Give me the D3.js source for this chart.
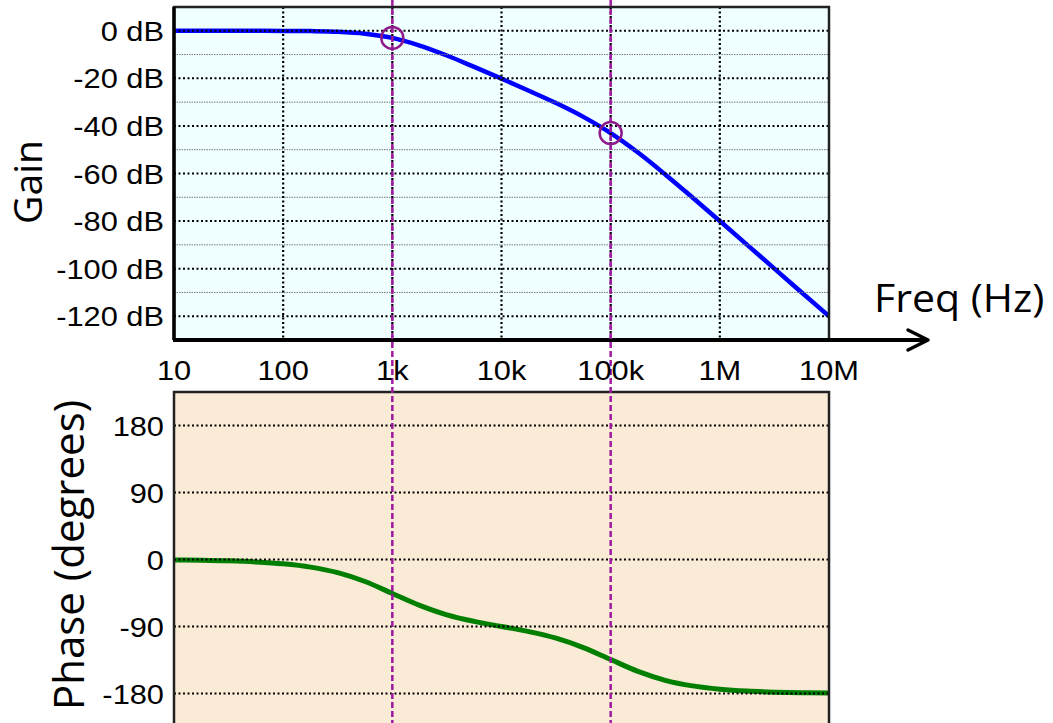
<!DOCTYPE html>
<html>
<head>
<meta charset="utf-8">
<script src="https://cdn.jsdelivr.net/npm/d3@7"></script>
<style>
  html, body { margin: 0; padding: 0; background: #fff; }
  svg { display: block; }
</style>
</head>
<body>
<div id="chart"></div>
<script>
// values
const freqs = [10, 17.8, 31.6, 56.2, 100, 178, 316, 562, 1000, 1780, 3160, 5620, 10000,
  17800, 31600, 56200, 100000, 178000, 316000, 562000, 1e6, 1.78e6, 3.16e6, 5.62e6, 1e7];
const gainDb = [0, 0, 0, -0.01, -0.04, -0.14, -0.41, -1.2, -3.0, -6.2, -10.4, -15.2, -20.1,
  -25.2, -30.4, -36.2, -43.0, -51.2, -60.4, -70.1, -80.0, -90.0, -100, -110, -120];
const phaseDeg = [-0.6, -1.0, -1.8, -3.3, -5.8, -10.2, -17.7, -29.6, -45.6, -61.6, -74.3, -83.1, -90,
  -96.9, -105.7, -118.3, -134.4, -150.3, -162.3, -169.8, -174.2, -176.8, -178.2, -179.0, -179.4];

const freqTicks = [10, 100, 1e3, 1e4, 1e5, 1e6, 1e7];
const freqLabels = ['10', '100', '1k', '10k', '100k', '1M', '10M'];
const gainTicks = [0, -20, -40, -60, -80, -100, -120];
const gainMinorTicks = [-10, -30, -50, -70, -90, -110];
const phaseTicks = [180, 90, 0, -90, -180];

const markerFreqs = [1000, 100000];
const markerGains = [-3, -43];

const W = 1053, H = 723;
const left = 174, right = 829;
const gainTop = 7, gainBottom = 340;
const phaseTop = 392, phaseBottom = 727;

const svg = d3.select('#chart').append('svg')
  .attr('width', W).attr('height', H);

const x = d3.scaleLog().domain([10, 1e7]).range([left, right]);
const yGain = d3.scaleLinear().domain([-130, 10]).range([gainBottom, gainTop]);
const yPhase = d3.scaleLinear().domain([-225, 225]).range([phaseBottom, phaseTop]);

const tickFont = '"Liberation Sans", Arial, sans-serif';
const labelFont = '"Open Sans", "Noto Sans", sans-serif';

// clips
svg.append('clipPath').attr('id', 'clipGain').append('rect')
  .attr('x', left).attr('y', gainTop).attr('width', right - left).attr('height', gainBottom - gainTop);
svg.append('clipPath').attr('id', 'clipPhase').append('rect')
  .attr('x', left).attr('y', phaseTop).attr('width', right - left).attr('height', phaseBottom - phaseTop);

// backgrounds
svg.append('rect').attr('x', left).attr('y', gainTop)
  .attr('width', right - left).attr('height', gainBottom - gainTop).attr('fill', '#f0ffff');
svg.append('rect').attr('x', left).attr('y', phaseTop)
  .attr('width', right - left).attr('height', phaseBottom - phaseTop).attr('fill', '#faebd7');

// curves first, grid dots sit on top of them
const gainLine = d3.line().x((d, i) => x(freqs[i])).y(d => yGain(d)).curve(d3.curveMonotoneX);
svg.append('path').datum(gainDb)
  .attr('clip-path', 'url(#clipGain)')
  .attr('d', gainLine)
  .attr('fill', 'none').attr('stroke', '#0000ff').attr('stroke-width', 4.5);

const phaseLine = d3.line().x((d, i) => x(freqs[i])).y(d => yPhase(d)).curve(d3.curveMonotoneX);
svg.append('path').datum(phaseDeg)
  .attr('clip-path', 'url(#clipPhase)')
  .attr('d', phaseLine)
  .attr('fill', 'none').attr('stroke', '#007f00').attr('stroke-width', 5);

// gain grid
svg.append('g').selectAll('line').data(gainMinorTicks).enter().append('line')
  .attr('x1', left).attr('x2', right)
  .attr('y1', d => yGain(d)).attr('y2', d => yGain(d))
  .attr('stroke', '#777').attr('stroke-width', 1).attr('stroke-dasharray', '1.5,1');
svg.append('g').selectAll('line').data(gainTicks).enter().append('line')
  .attr('x1', left).attr('x2', right)
  .attr('y1', d => yGain(d)).attr('y2', d => yGain(d))
  .attr('stroke', '#000').attr('stroke-width', 2).attr('stroke-dasharray', '2,2.5');
svg.append('g').selectAll('line').data(freqTicks.slice(1, -1)).enter().append('line')
  .attr('x1', d => x(d)).attr('x2', d => x(d))
  .attr('y1', gainTop).attr('y2', gainBottom)
  .attr('stroke', '#000').attr('stroke-width', 2.2).attr('stroke-dasharray', '2,2.5');

// phase grid
svg.append('g').selectAll('line').data(phaseTicks).enter().append('line')
  .attr('x1', left).attr('x2', right)
  .attr('y1', d => yPhase(d)).attr('y2', d => yPhase(d))
  .attr('stroke', '#000').attr('stroke-width', 2).attr('stroke-dasharray', '2,2.5');

// borders
svg.append('path')
  .attr('d', `M${left},${gainBottom}V${gainTop}H${right}V${gainBottom}`)
  .attr('fill', 'none').attr('stroke', '#222').attr('stroke-width', 2.5);
svg.append('rect').attr('x', left).attr('y', phaseTop)
  .attr('width', right - left).attr('height', phaseBottom - phaseTop)
  .attr('fill', 'none').attr('stroke', '#222').attr('stroke-width', 2.5);

// frequency axis with arrow
svg.append('line').attr('x1', left - 1).attr('x2', 926)
  .attr('y1', gainBottom).attr('y2', gainBottom)
  .attr('stroke', '#000').attr('stroke-width', 4);
svg.append('path')
  .attr('d', `M908,${gainBottom - 10}L928,${gainBottom}L908,${gainBottom + 10}`)
  .attr('fill', 'none').attr('stroke', '#000').attr('stroke-width', 3.5)
  .attr('stroke-linecap', 'round').attr('stroke-linejoin', 'round');
svg.append('line').attr('x1', left).attr('x2', left)
  .attr('y1', gainTop).attr('y2', gainBottom)
  .attr('stroke', '#000').attr('stroke-width', 3.5);

// marker lines at 1k / 100k
svg.append('g').selectAll('line').data(markerFreqs).enter().append('line')
  .attr('x1', d => x(d)).attr('x2', d => x(d))
  .attr('y1', 0).attr('y2', H)
  .attr('stroke', '#a01aa0').attr('stroke-width', 2.5).attr('stroke-dasharray', '6,3');

// circles
svg.append('g').selectAll('circle').data(markerFreqs).enter().append('circle')
  .attr('cx', d => x(d)).attr('cy', (d, i) => yGain(markerGains[i]))
  .attr('r', 11)
  .attr('fill', 'none').attr('stroke', '#8e1a8c').attr('stroke-width', 2.5);

// tick labels (reference glyphs are a bit wide, so stretch them slightly)
svg.append('g').selectAll('text').data(gainTicks).enter().append('text')
  .attr('transform', d => `translate(164, ${yGain(d)}) scale(1.1, 1)`)
  .attr('dy', '0.36em')
  .attr('text-anchor', 'end')
  .style('font-family', tickFont).style('font-size', '28px')
  .text(d => `${d} dB`);
svg.append('g').selectAll('text').data(freqTicks).enter().append('text')
  .attr('transform', d => `translate(${x(d)}, 380) scale(1.1, 1)`)
  .attr('text-anchor', 'middle')
  .style('font-family', tickFont).style('font-size', '28px')
  .text((d, i) => freqLabels[i]);
svg.append('g').selectAll('text').data(phaseTicks).enter().append('text')
  .attr('transform', d => `translate(164, ${yPhase(d)}) scale(1.1, 1)`)
  .attr('dy', '0.36em')
  .attr('text-anchor', 'end')
  .style('font-family', tickFont).style('font-size', '28px')
  .text(d => d);

// axis titles
svg.append('text')
  .attr('transform', 'translate(42, 182) rotate(-90)')
  .attr('text-anchor', 'middle')
  .style('font-family', labelFont).style('font-size', '39px')
  .text('Gain');
svg.append('text')
  .attr('transform', 'translate(84, 555) rotate(-90)')
  .attr('text-anchor', 'middle')
  .style('font-family', labelFont).style('font-size', '42px')
  .text('Phase (degrees)');
svg.append('text')
  .attr('transform', 'translate(874, 312) scale(1.08, 1)')
  .style('font-family', labelFont).style('font-size', '38px')
  .text('Freq (Hz)');
</script>
</body>
</html>
